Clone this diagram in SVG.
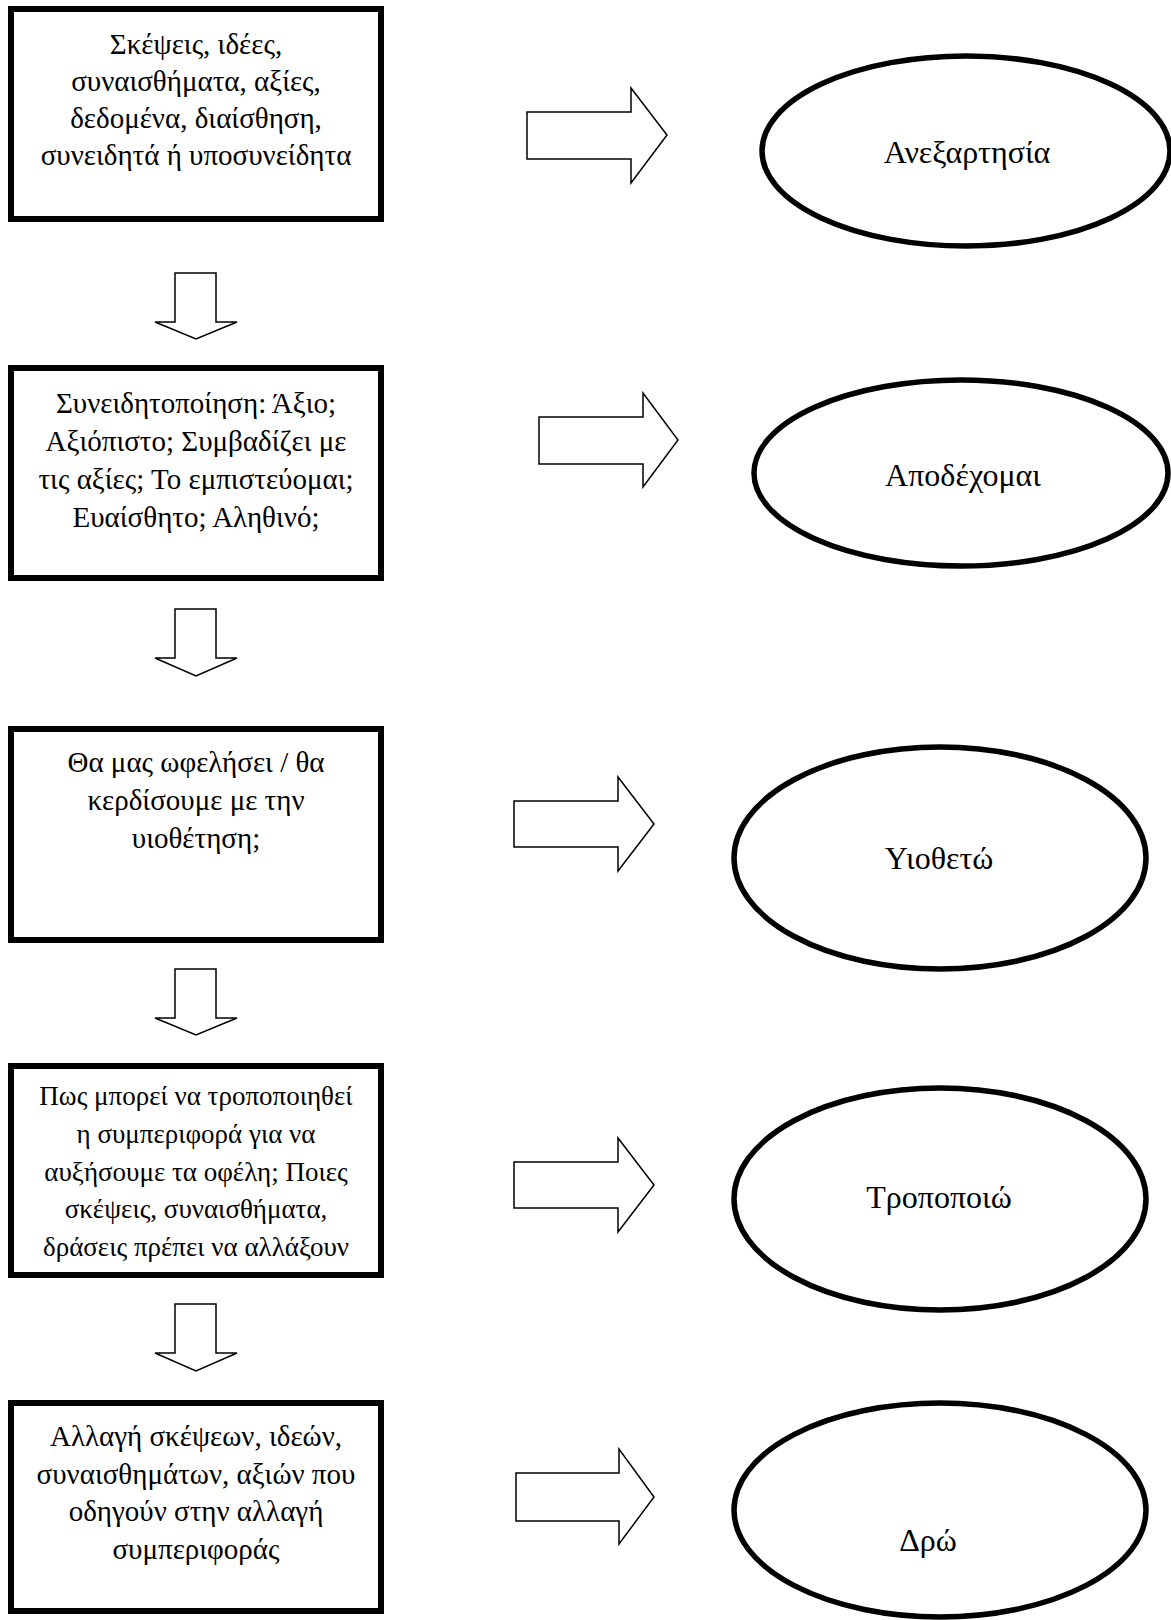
<svg xmlns="http://www.w3.org/2000/svg" width="1171" height="1620" viewBox="0 0 1171 1620">
<style>
.box{fill:#fff;stroke:#000;stroke-width:6}
.ell{fill:#fff;stroke:#000;stroke-width:5.5}
.arr{fill:#fff;stroke:#000;stroke-width:1.5;stroke-linejoin:miter}
text{font-family:"Liberation Serif","DejaVu Serif",serif;font-size:29px;fill:#000;text-anchor:middle}
.sm{font-size:27px}
.el{font-size:32px}
</style>
<rect width="1171" height="1620" fill="#fff"/>
<g id="connectors">
<polygon class="arr" points="527,112 631,112 631,88 667,135 631,183 631,159 527,159"/>
<polygon class="arr" points="539,417 643,417 643,393 678,440 643,487 643,464 539,464"/>
<polygon class="arr" points="514,801 618,801 618,777 654,824 618,871 618,847 514,847"/>
<polygon class="arr" points="514,1162 618,1162 618,1138 654,1185 618,1232 618,1208 514,1208"/>
<polygon class="arr" points="516,1473 619,1473 619,1449 654,1497 619,1544 619,1521 516,1521"/>
<polygon class="arr" points="175,273 216,273 216,322 237,322 196,339 155,322 175,322"/>
<polygon class="arr" points="175,609 216,609 216,658 237,658 196,676 155,658 175,658"/>
<polygon class="arr" points="175,969 216,969 216,1018 237,1018 196,1035 155,1018 175,1018"/>
<polygon class="arr" points="175,1304 216,1304 216,1353 237,1353 196,1371 155,1353 175,1353"/>
</g>
<g id="box1">
<rect class="box" x="11" y="9" width="370" height="210"/>
<text x="196" y="54">Σκέψεις, ιδέες,</text>
<text x="196" y="91">συναισθήματα, αξίες,</text>
<text x="196" y="128">δεδομένα, διαίσθηση,</text>
<text x="196" y="165">συνειδητά ή υποσυνείδητα</text>
</g>
<g id="box2">
<rect class="box" x="11" y="368" width="370" height="210"/>
<text x="196" y="413">Συνειδητοποίηση: Άξιο;</text>
<text x="196" y="451">Αξιόπιστο; Συμβαδίζει με</text>
<text x="196" y="489">τις αξίες; Το εμπιστεύομαι;</text>
<text x="196" y="527">Ευαίσθητο; Αληθινό;</text>
</g>
<g id="box3">
<rect class="box" x="11" y="729" width="370" height="211"/>
<text x="196" y="772">Θα μας ωφελήσει / θα</text>
<text x="196" y="810">κερδίσουμε με την</text>
<text x="196" y="848">υιοθέτηση;</text>
</g>
<g id="box4">
<rect class="box" x="11" y="1066" width="370" height="209"/>
<text class="sm" x="196" y="1105">Πως μπορεί να τροποποιηθεί</text>
<text class="sm" x="196" y="1143">η συμπεριφορά για να</text>
<text class="sm" x="196" y="1181">αυξήσουμε τα οφέλη; Ποιες</text>
<text class="sm" x="196" y="1218">σκέψεις, συναισθήματα,</text>
<text class="sm" x="196" y="1256">δράσεις πρέπει να αλλάξουν</text>
</g>
<g id="box5">
<rect class="box" x="11" y="1403" width="370" height="208"/>
<text x="196" y="1446">Αλλαγή σκέψεων, ιδεών,</text>
<text x="196" y="1484">συναισθημάτων, αξιών που</text>
<text x="196" y="1521">οδηγούν στην αλλαγή</text>
<text x="196" y="1559">συμπεριφοράς</text>
</g>
<g id="ell1">
<ellipse class="ell" cx="966" cy="151" rx="204" ry="95"/>
<text class="el" x="967" y="163">Ανεξαρτησία</text>
</g>
<g id="ell2">
<ellipse class="ell" cx="961" cy="473" rx="207" ry="93"/>
<text class="el" x="963" y="486">Αποδέχομαι</text>
</g>
<g id="ell3">
<ellipse class="ell" cx="940" cy="858" rx="206" ry="111"/>
<text class="el" x="939" y="869">Υιοθετώ</text>
</g>
<g id="ell4">
<ellipse class="ell" cx="940" cy="1199" rx="206" ry="111"/>
<text class="el" x="939" y="1208">Τροποποιώ</text>
</g>
<g id="ell5">
<ellipse class="ell" cx="940" cy="1510" rx="206" ry="107"/>
<text class="el" x="928" y="1551">Δρώ</text>
</g>
</svg>
